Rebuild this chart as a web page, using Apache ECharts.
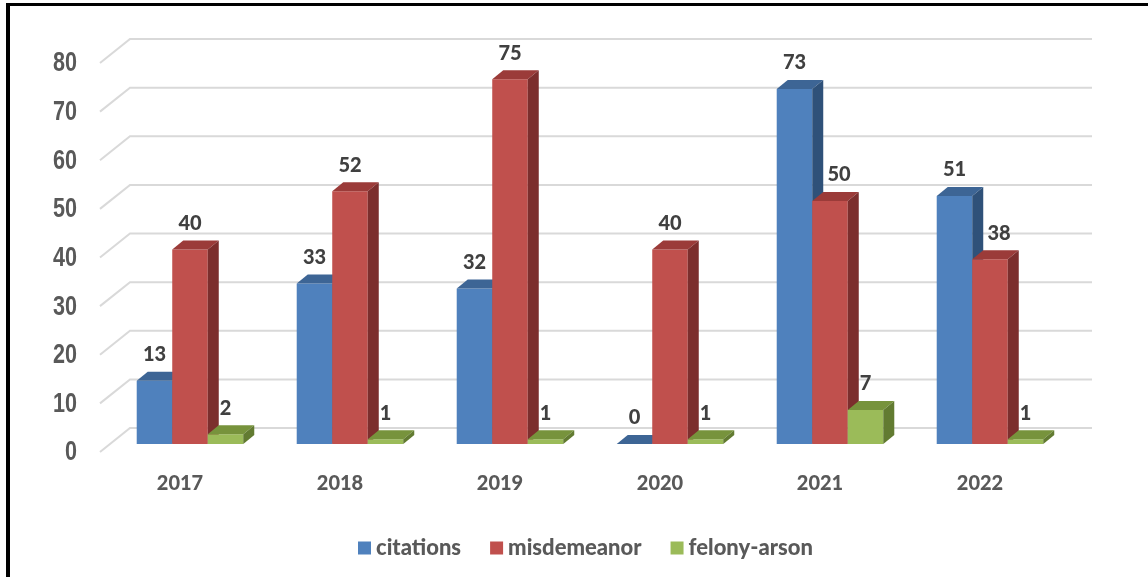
<!DOCTYPE html>
<html>
<head>
<meta charset="utf-8">
<script src="https://cdn.jsdelivr.net/npm/echarts@6/dist/echarts.min.js"></script>
<style>
html,body{margin:0;padding:0;background:#fff;}
#chart{width:1148px;height:577px;}
</style>
</head>
<body>
<div id="chart"></div>
<script>
const categories = ['2017', '2018', '2019', '2020', '2021', '2022'];
const citations = [13, 33, 32, 0, 73, 51];
const misdemeanor = [40, 52, 75, 40, 50, 38];
const felonyArson = [2, 1, 1, 1, 7, 1];
const seriesNames = ['citations', 'misdemeanor', 'felony-arson'];
const yTicks = [0, 10, 20, 30, 40, 50, 60, 70, 80];

const palette = [
  { front: '#4F81BD', top: '#3D6595', side: '#2F5179' },
  { front: '#C0504D', top: '#9B3B39', side: '#7C2E2D' },
  { front: '#9BBB59', top: '#77933C', side: '#627B31' }
];
const seriesData = [citations, misdemeanor, felonyArson];

// 3D projection offsets
const PX = 10, PY = -8;      // bar plane offset from front plane
const DX = 11, DY = -9;      // bar depth
const WX = 30, WY = -24;     // back wall offset

const LABEL_FONT = { fontFamily: 'Lato', fontWeight: 900, fontSize: 20 };

function barRenderer(idx) {
  return function (params, api) {
    const cat = api.value(0), v = api.value(1);
    const base = api.coord([cat, 0]);
    const top = api.coord([cat, v]);
    const band = api.size([1, 0])[0];
    const W = band * 0.222;
    const x0 = base[0] + PX - 1.5 * W + idx * W;
    const y0 = base[1] + PY;
    const yt = top[1] + PY;
    const c = palette[idx];
    // nudge a wide label right when the taller neighbour's side face would overlap it
    const prevTaller = idx > 0 && seriesData[idx - 1][cat] > v && String(v).length > 1;
    const lx = x0 + W / 2 + (prevTaller ? 9 : 0);
    return {
      type: 'group',
      children: [
        { type: 'rect', shape: { x: x0, y: yt, width: W, height: y0 - yt }, style: { fill: c.front } },
        { type: 'polygon', shape: { points: [[x0, yt], [x0 + W, yt], [x0 + W + DX, yt + DY], [x0 + DX, yt + DY]] }, style: { fill: c.top } },
        { type: 'polygon', shape: { points: [[x0 + W, yt], [x0 + W + DX, yt + DY], [x0 + W + DX, y0 + DY], [x0 + W, y0]] }, style: { fill: c.side } },
        { type: 'text', style: Object.assign({ text: String(v), x: lx, y: yt - 26, align: 'center', verticalAlign: 'middle', fill: '#404040' }, LABEL_FONT) }
      ]
    };
  };
}

function gridRenderer(params, api) {
  const v = api.value(1);
  const cs = params.coordSys;
  const p = api.coord([0, v]);
  const yf = p[1];
  const lx = cs.x - 23;
  return {
    type: 'group',
    children: [
      {
        type: 'polyline',
        shape: { points: [[cs.x, yf], [cs.x + WX, yf + WY], [cs.x + cs.width + 32, yf + WY]] },
        style: { stroke: '#D9D9D9', lineWidth: 2, fill: null }
      },
      {
        type: 'text',
        x: lx, y: yf + 1, scaleX: 0.8, scaleY: 1,
        style: { text: String(v), x: 0, y: 0, align: 'right', verticalAlign: 'middle', fill: '#595959', fontFamily: '"Liberation Sans", Arial, sans-serif', fontWeight: 'bold', fontSize: 27 }
      }
    ]
  };
}

const chart = echarts.init(document.getElementById('chart'), null, { renderer: 'canvas' });

const option = {
  backgroundColor: '#fff',
  animation: false,
  grid: { left: 100, top: 63, width: 960, height: 389 },
  xAxis: {
    type: 'category',
    data: categories,
    axisLine: { show: false },
    axisTick: { show: false },
    axisLabel: Object.assign({ margin: 22, color: '#595959' }, LABEL_FONT)
  },
  yAxis: {
    type: 'value',
    min: 0, max: 80, interval: 10,
    splitLine: { show: false },
    axisLine: { show: false },
    axisTick: { show: false },
    axisLabel: { show: false }
  },
  legend: {
    data: seriesNames.map((n, i) => ({ name: n, itemStyle: { color: palette[i].front } })),
    left: 353, top: 532,
    icon: 'rect', itemWidth: 13, itemHeight: 13, itemGap: 29,
    textStyle: { color: '#595959', fontFamily: 'Lato', fontWeight: 900, fontSize: 22 }
  },
  graphic: [
    { type: 'rect', shape: { x: 6, y: 3, width: 1142, height: 3 }, style: { fill: '#000' } },
    { type: 'rect', shape: { x: 6, y: 3, width: 4, height: 574 }, style: { fill: '#000' } }
  ],
  series: [
    {
      type: 'custom', name: '_grid', z: 1, silent: true,
      renderItem: gridRenderer,
      data: yTicks.map(t => [0, t]),
      encode: { x: 0, y: 1 }
    }
  ].concat(seriesData.map((d, i) => ({
    type: 'custom', name: seriesNames[i], z: 2 + i,
    itemStyle: { color: palette[i].front },
    renderItem: barRenderer(i),
    data: d.map((v, k) => [k, v]),
    encode: { x: 0, y: 1 }
  })))
};
chart.setOption(option);
</script>
</body>
</html>
